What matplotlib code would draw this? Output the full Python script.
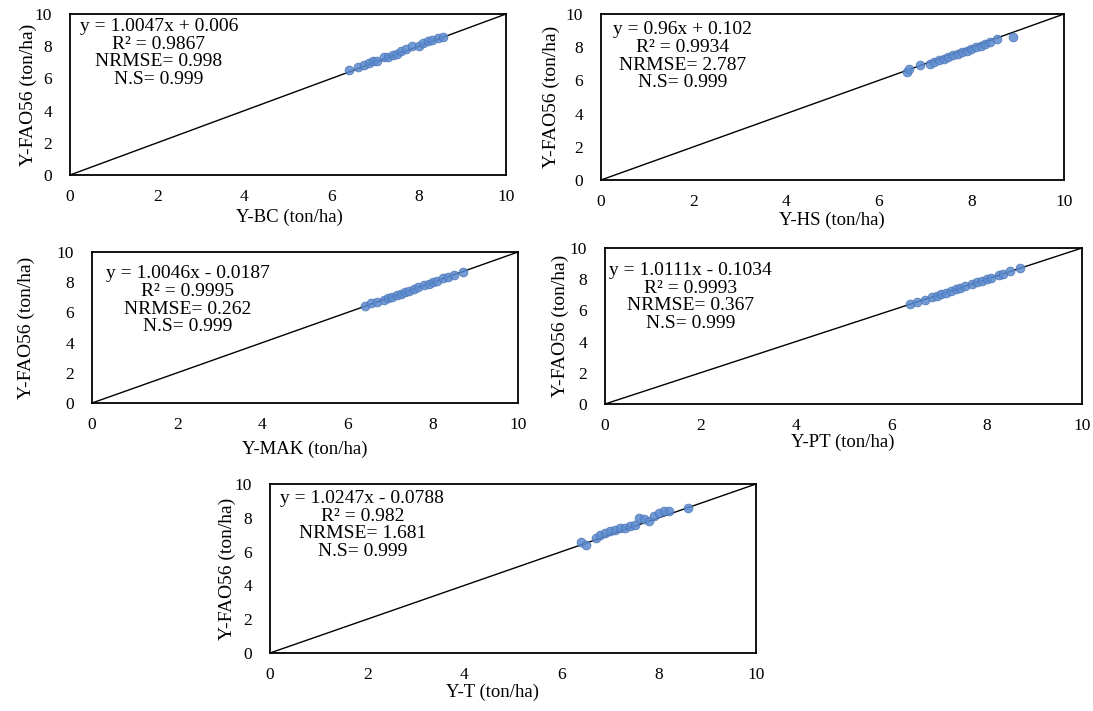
import numpy as np
import matplotlib
matplotlib.use('Agg')
import matplotlib.pyplot as plt

plt.rcParams['font.family'] = ['Liberation Serif', 'DejaVu Serif']

# Данные (оценены по рисунку)
bc_x = [6.4, 6.6, 6.75, 6.85, 6.95, 7.05, 7.2, 7.3, 7.4, 7.5, 7.6, 7.7, 7.85, 8.0, 8.1, 8.2, 8.3, 8.45, 8.55]
bc_y = [6.5, 6.7, 6.85, 6.95, 7.05, 7.1, 7.3, 7.3, 7.45, 7.5, 7.7, 7.8, 8.0, 8.0, 8.2, 8.3, 8.4, 8.5, 8.6]

hs_x = [6.6, 6.65, 6.9, 7.1, 7.2, 7.3, 7.4, 7.5, 7.6, 7.7, 7.8, 7.9, 8.0, 8.1, 8.2, 8.3, 8.4, 8.55, 8.9]
hs_y = [6.5, 6.7, 6.9, 7.0, 7.1, 7.2, 7.3, 7.4, 7.5, 7.6, 7.7, 7.8, 7.9, 8.0, 8.1, 8.2, 8.3, 8.5, 8.6]

mak_x = [6.4, 6.55, 6.7, 6.85, 6.95, 7.05, 7.15, 7.25, 7.35, 7.45, 7.55, 7.65, 7.8, 7.9, 8.0, 8.1, 8.25, 8.35, 8.5, 8.7]
mak_y = [6.45, 6.6, 6.7, 6.85, 6.95, 7.05, 7.15, 7.25, 7.35, 7.45, 7.55, 7.65, 7.8, 7.9, 8.0, 8.1, 8.25, 8.35, 8.5, 8.7]

pt_x = [6.4, 6.55, 6.7, 6.85, 6.95, 7.05, 7.15, 7.25, 7.35, 7.45, 7.55, 7.7, 7.8, 7.9, 8.0, 8.1, 8.25, 8.35, 8.5, 8.7]
pt_y = [6.4, 6.55, 6.65, 6.85, 6.95, 7.05, 7.1, 7.25, 7.35, 7.45, 7.55, 7.7, 7.8, 7.9, 8.0, 8.1, 8.25, 8.35, 8.5, 8.7]

t_x = [6.4, 6.5, 6.7, 6.8, 6.9, 7.0, 7.1, 7.2, 7.3, 7.4, 7.5, 7.6, 7.7, 7.8, 7.9, 8.0, 8.1, 8.2, 8.6]
t_y = [6.55, 6.4, 6.8, 7.0, 7.1, 7.2, 7.3, 7.4, 7.4, 7.5, 7.6, 8.0, 7.9, 7.8, 8.1, 8.3, 8.4, 8.4, 8.6]

xlabels = ['Y-BC (ton/ha)', 'Y-HS (ton/ha)', 'Y-MAK (ton/ha)', 'Y-PT (ton/ha)', 'Y-T (ton/ha)']
equations = ['y = 1.0047x + 0.006', 'y = 0.96x + 0.102', 'y = 1.0046x - 0.0187',
             'y = 1.0111x - 0.1034', 'y = 1.0247x - 0.0788']
r2 = ['0.9867', '0.9934', '0.9995', '0.9993', '0.982']
nrmse = ['0.998', '2.787', '0.262', '0.367', '1.681']
ns = ['0.999', '0.999', '0.999', '0.999', '0.999']

xs = [bc_x, hs_x, mak_x, pt_x, t_x]
ys = [bc_y, hs_y, mak_y, pt_y, t_y]

# раскладка в пикселях: левый, правый, верх, низ
W, H = 1093, 711
boxes = [(70, 506, 14, 175), (601, 1064, 14, 180), (92, 518, 252, 403),
         (605, 1082, 248, 404), (270, 756, 484, 653)]
text_pos = [(0.204, 0.975), (0.177, 0.955), (0.225, 0.912), (0.18, 0.91), (0.19, 0.965)]
ylab_right = [37, 560, 35, 569, 236]      # правый край подписи оси y
xlab_top = [209, 212, 441, 434, 684]      # верх подписи оси x
xlab_cx = [289, 832, 305, 843, 492]       # центр подписи оси x

fig = plt.figure(figsize=(W / 100, H / 100), dpi=100)

for i in range(5):
    l, r, t, b = boxes[i]
    ax = fig.add_axes([l / W, (H - b) / H, (r - l) / W, (b - t) / H])
    ax.plot([0, 10], [0, 10], color='black', lw=1.0, zorder=1)
    ax.scatter(xs[i], ys[i], s=40, color='#5b8bd0', edgecolors='#4a74b5',
               linewidths=0.6, alpha=0.85, zorder=2)
    ax.set_xlim(0, 10)
    ax.set_ylim(0, 10)
    ax.set_xticks(range(0, 11, 2))
    ax.set_yticks(range(0, 11, 2))
    ax.tick_params(length=0, labelsize=12.5)
    ax.tick_params(axis='x', pad=10)
    ax.tick_params(axis='y', pad=13)
    for sp in ax.spines.values():
        sp.set_linewidth(1.3)
    ax.set_xlabel(xlabels[i], fontsize=13.5)
    ax.set_ylabel('Y-FAO56 (ton/ha)', fontsize=14)
    ax.xaxis.set_label_coords((xlab_cx[i] - l) / (r - l), (b - xlab_top[i]) / (b - t))
    ax.yaxis.set_label_coords((ylab_right[i] - l) / (r - l), 0.5)
    txt = '%s\nR² = %s\nNRMSE= %s\nN.S= %s' % (equations[i], r2[i], nrmse[i], ns[i])
    ax.text(text_pos[i][0], text_pos[i][1], txt, transform=ax.transAxes,
            ha='center', va='top', multialignment='center', fontsize=14,
            linespacing=1.05)

fig.savefig('out.png', dpi=100)
